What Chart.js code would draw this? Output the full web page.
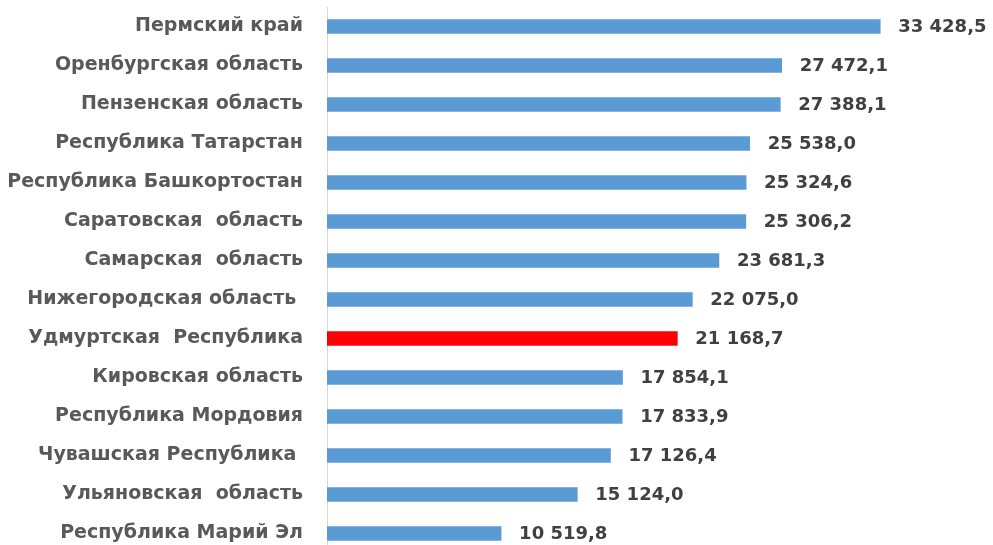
<!DOCTYPE html>
<html>
<head>
<meta charset="utf-8">
<script src="https://cdn.jsdelivr.net/npm/chart.js@4.4.0/dist/chart.umd.min.js"></script>
<style>
    html, body { margin: 0; padding: 0; background: #fff; overflow: hidden; }
    #wrap { width: 993px; height: 553px; position: relative; }
</style>
</head>
<body>
<div id="wrap"><canvas id="regionChart"></canvas></div>
<script>
// регионы (сверху вниз)
const regions = [
    'Пермский край',
    'Оренбургская область',
    'Пензенская область',
    'Республика Татарстан',
    'Республика Башкортостан',
    'Саратовская  область',
    'Самарская  область',
    'Нижегородская область ',
    'Удмуртская  Республика',
    'Кировская область',
    'Республика Мордовия',
    'Чувашская Республика ',
    'Ульяновская  область',
    'Республика Марий Эл'
];
const values = [33428.5, 27472.1, 27388.1, 25538.0, 25324.6, 25306.2, 23681.3,
    22075.0, 21168.7, 17854.1, 17833.9, 17126.4, 15124.0, 10519.8];
const highlight = 'Удмуртская  Республика';

const barColors = regions.map((r) => r === highlight ? '#ff0000' : '#5b9bd5');

function formatValue(v) {
    let parts = v.toFixed(1).split('.');
    let intPart = parts[0].replace(/\B(?=(\d{3})+(?!\d))/g, ' ');
    return intPart + ',' + parts[1];
}

// подписи значений справа от столбцов
const valueLabels = {
    id: 'valueLabels',
    afterDatasetsDraw(chart) {
        const ctx = chart.ctx;
        const meta = chart.getDatasetMeta(0);
        ctx.save();
        ctx.font = 'bold 18px "DejaVu Sans"';
        ctx.fillStyle = '#404040';
        ctx.textAlign = 'left';
        ctx.textBaseline = 'middle';
        meta.data.forEach((bar, i) => {
            ctx.fillText(formatValue(values[i]), bar.x + 18, bar.y + 1);
        });
        ctx.restore();
    }
};

new Chart(document.getElementById('regionChart'), {
    type: 'bar',
    data: {
        labels: regions,
        datasets: [
            {
                data: values,
                backgroundColor: barColors,
                borderWidth: 0,
                barThickness: 14
            }
        ]
    },
    options: {
        indexAxis: 'y',
        responsive: true,
        maintainAspectRatio: false,
        animation: false,
        layout: {padding: {top: 7, right: 4, bottom: 0, left: 0}},
        plugins: {
            legend: {display: false},
            tooltip: {enabled: false}
        },
        scales: {
            x: {
                display: false,
                min: 0,
                max: 40000
            },
            y: {
                afterFit(scale) {
                    scale.width = 327;
                    scale.paddingTop = 0;
                    scale.paddingBottom = 0;
                },
                grid: {display: false, drawTicks: false},
                border: {display: true, color: '#d9d9d9', width: 1},
                ticks: {
                    padding: 24,
                    color: '#595959',
                    font: {family: 'DejaVu Sans', size: 19, weight: 'bold'}
                }
            }
        }
    },
    plugins: [valueLabels]
});
</script>
</body>
</html>
